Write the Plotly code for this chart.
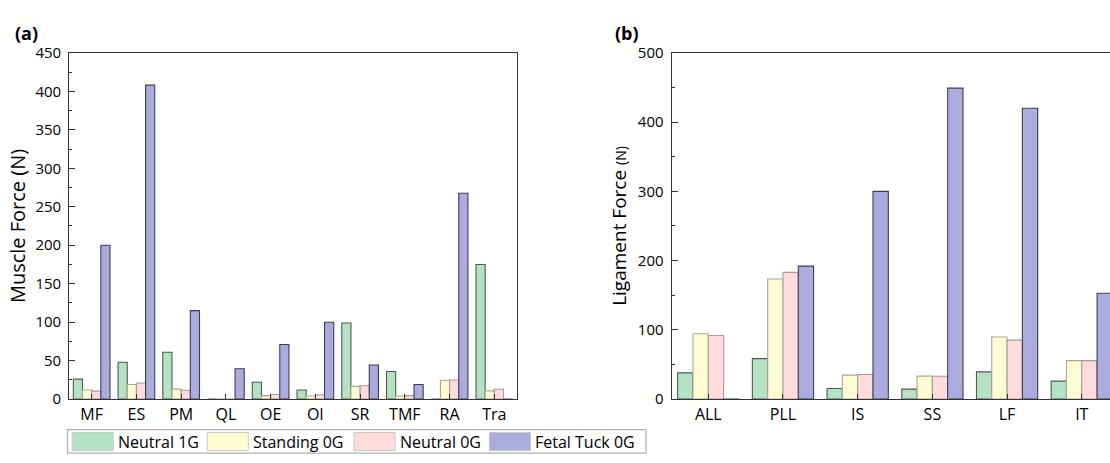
import plotly.graph_objects as go

# ---------------- data ----------------
muscle_cats = ["MF", "ES", "PM", "QL", "OE", "OI", "SR", "TMF", "RA", "Tra"]
muscle_neutral_1g = [26, 48, 61, 0, 22, 12, 99, 36, 0, 175]
muscle_standing_0g = [12, 19, 13, 0, 4.6, 4.1, 16.6, 4.1, 24.5, 10.8]
muscle_neutral_0g = [10.4, 21, 11.6, 0, 6, 5.8, 17.4, 4.6, 25, 12.8]
muscle_fetal_0g = [200, 408, 115, 39.5, 71, 100, 44.4, 19, 267.5, 0]

lig_cats = ["ALL", "PLL", "IS", "SS", "LF", "IT"]
lig_neutral_1g = [38, 58.5, 15.3, 14.5, 39.4, 26]
lig_standing_0g = [94.4, 173.5, 34.7, 33.3, 89.8, 55.6]
lig_neutral_0g = [92, 183, 35.6, 33, 85.2, 55.6]
lig_fetal_0g = [0, 192, 300, 449, 420, 152.8]

series_names = ["Neutral 1G", "Standing 0G", "Neutral 0G", "Fetal Tuck 0G"]
muscle_tick_vals = [0, 50, 100, 150, 200, 250, 300, 350, 400, 450]
lig_tick_vals = [0, 100, 200, 300, 400, 500]

# ---------------- style ----------------
W, H = 1110, 463
FONT = "Open Sans"
fills = ["#b4e2c3", "#fffcd4", "#ffdcdc", "#abacdd"]
edges = ["#4f5a52", "#a9a896", "#a89a9a", "#3d3d52"]
AX = "#333333"


def px_x(p):
    return p / W


def px_y(p):
    return 1 - p / H


fig = go.Figure()

muscle_series = [muscle_neutral_1g, muscle_standing_0g, muscle_neutral_0g, muscle_fetal_0g]
lig_series = [lig_neutral_1g, lig_standing_0g, lig_neutral_0g, lig_fetal_0g]

for i, name in enumerate(series_names):
    fig.add_trace(go.Bar(
        x=muscle_cats, y=muscle_series[i], name=name,
        marker=dict(color=fills[i], line=dict(color=edges[i], width=1.1)),
        xaxis="x", yaxis="y", showlegend=False,
    ))
for i, name in enumerate(series_names):
    fig.add_trace(go.Bar(
        x=lig_cats, y=lig_series[i], name=name,
        marker=dict(color=fills[i], line=dict(color=edges[i], width=1.1)),
        xaxis="x2", yaxis="y2", showlegend=False,
    ))

y_dom = [px_y(405.7), px_y(43.7)]

common_x = dict(
    type="category", showline=True, linecolor=AX, linewidth=1.3,
    ticks="inside", ticklen=5, tickwidth=1.2, tickcolor=AX,
    tickfont=dict(family=FONT, size=16, color="#000"),
    showgrid=False, zeroline=False,
)
common_y = dict(
    showline=True, linecolor=AX, linewidth=1.3,
    ticks="inside", ticklen=6, tickwidth=1.2, tickcolor=AX,
    tickfont=dict(family=FONT, size=15, color="#000"),
    showgrid=False, zeroline=False, ticklabelstandoff=4,
)

fig.update_layout(
    width=W, height=H,
    margin=dict(l=0, r=0, t=0, b=0),
    paper_bgcolor="white", plot_bgcolor="white",
    barmode="group", bargap=0.18, bargroupgap=0,
    font=dict(family=FONT, color="#000"),
    xaxis=dict(common_x, domain=[px_x(69.3), px_x(516.7)], range=[-0.5, 9.5],
               mirror=True, anchor="y"),
    yaxis=dict(common_y, domain=y_dom, range=[0, 450], tickvals=muscle_tick_vals,
               minor=dict(ticks="inside", ticklen=3, dtick=25, tickcolor=AX, tickwidth=1.1),
               mirror=True, anchor="x",
               title=dict(text="Muscle Force (N)", font=dict(family=FONT, size=20, color="#000"),
                          standoff=4)),
    xaxis2=dict(common_x, domain=[px_x(671.7), 1.0], range=[-0.49, 5.378],
                mirror=True, anchor="y2"),
    yaxis2=dict(common_y, domain=y_dom, range=[0, 500], tickvals=lig_tick_vals,
                minor=dict(ticks="inside", ticklen=3, dtick=50, tickcolor=AX, tickwidth=1.1),
                mirror=False, anchor="x2",
                title=dict(text="Ligament Force <span style='font-size:14px'>(N)</span>",
                           font=dict(family=FONT, size=19, color="#000"), standoff=6)),
)

# panel labels
for label, xp in [("(a)", 13.0), ("(b)", 613.0)]:
    fig.add_annotation(text=f"<b>{label}</b>", x=px_x(xp), y=px_y(23), xref="paper", yref="paper",
                       xanchor="left", yanchor="middle", showarrow=False,
                       font=dict(family=FONT, size=18, color="#000"))

# custom legend (large swatches as in the original)
fig.add_shape(type="rect", xref="paper", yref="paper",
              x0=px_x(67.5), x1=px_x(646), y0=px_y(462), y1=px_y(437.5),
              line=dict(color="#b0b0b0", width=1.2), fillcolor="white")
swatch_left = [72.2, 207.3, 354.0, 489.4]
for i, name in enumerate(series_names):
    x0 = swatch_left[i]
    fig.add_shape(type="rect", xref="paper", yref="paper",
                  x0=px_x(x0), x1=px_x(x0 + 41), y0=px_y(459.5), y1=px_y(440.5),
                  line=dict(color="#c8c8c8", width=1), fillcolor=fills[i])
    fig.add_annotation(text=name, x=px_x(x0 + 44), y=px_y(450), xref="paper", yref="paper",
                       xanchor="left", yanchor="middle", showarrow=False,
                       font=dict(family=FONT, size=16, color="#000"))

fig.write_html(
    "out.html",
    config={"displayModeBar": False},
    post_script="document.body.style.margin='0';document.body.style.overflow='hidden';",
)
